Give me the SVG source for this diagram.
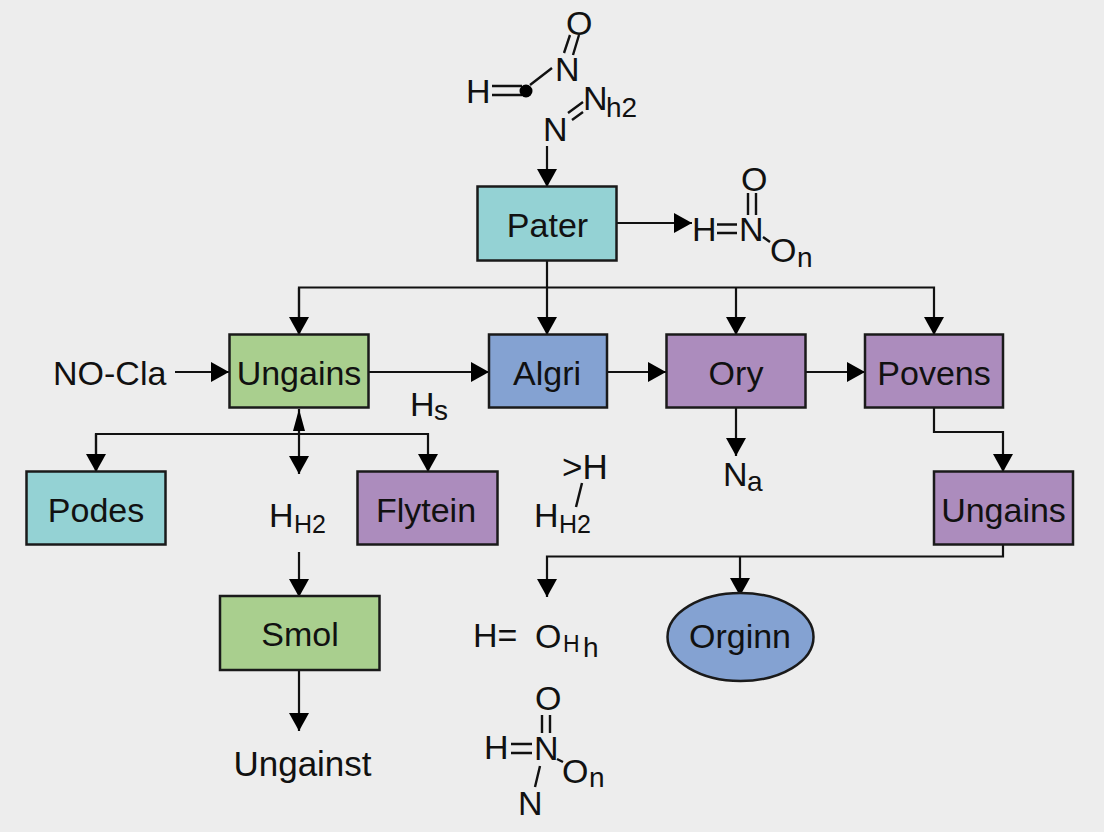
<svg xmlns="http://www.w3.org/2000/svg" width="1104" height="832" viewBox="0 0 1104 832">
<style>
text{font-family:"Liberation Sans",Arial,sans-serif;fill:#111;}
.l{font-size:34px;text-anchor:middle;}
.c{font-size:34px;}
.s{font-size:28px;}
.t{font-size:25px;}
.box{stroke:#1a1a1a;stroke-width:2.5;}
.teal{fill:#94d2d4;}.green{fill:#a9cf8e;}.blue{fill:#84a2d2;}.purple{fill:#ac8cbd;}
.w{fill:none;stroke:#111;stroke-width:2.2;}
.b{fill:none;stroke:#111;stroke-width:2.4;}
.h{fill:#000;}
</style>
<defs>
<marker id="a" markerUnits="userSpaceOnUse" markerWidth="22" markerHeight="22" refX="18" refY="10" orient="auto"><path d="M0 0L18 10L0 20Z" fill="#000"/></marker>
<marker id="n" markerUnits="userSpaceOnUse" markerWidth="24" markerHeight="16" refX="22" refY="7" orient="auto"><path d="M0 1L22 7L0 13Z" fill="#000"/></marker>
</defs>
<rect width="1104" height="832" fill="#ededed"/>

<g id="connectors">
<path class="w" d="M547 146V187" marker-end="url(#a)"/>
<path class="w" d="M617 223H692" marker-end="url(#a)"/>
<path class="w" d="M547 261V335" marker-end="url(#a)"/>
<path class="w" d="M299 335V287.500H934V335" marker-end="url(#a)"/>
<path class="w" d="M299 288V335" marker-end="url(#a)"/>
<path class="w" d="M736 288V335" marker-end="url(#a)"/>
<path class="w" d="M175 372H229" marker-end="url(#a)"/>
<path class="w" d="M369 372H489" marker-end="url(#a)"/>
<path class="w" d="M607 372H666" marker-end="url(#a)"/>
<path class="w" d="M806 372H865" marker-end="url(#a)"/>
<path class="w" d="M299 434V409" marker-end="url(#n)"/>
<path class="w" d="M299 434V474" marker-end="url(#a)"/>
<path class="w" d="M96 472V434H428V472" marker-end="url(#a)"/>
<path class="w" d="M96 434V472" marker-end="url(#a)"/>
<path class="w" d="M299 552V597" marker-end="url(#a)"/>
<path class="w" d="M299 670V731" marker-end="url(#a)"/>
<path class="w" d="M736 408V456" marker-end="url(#a)"/>
<path class="w" d="M934 408V432H1003V472" marker-end="url(#a)"/>
<path class="w" d="M1003 545V556.500H547V597" marker-end="url(#a)"/>
<path class="w" d="M740 557V596" marker-end="url(#a)"/>
</g>

<g id="node-pater"><rect class="box teal" x="477.500" y="186.500" width="139" height="74"/><text class="l" x="547.500" y="236.500">Pater</text></g>
<g id="node-ungains"><rect class="box green" x="229.500" y="334.500" width="139" height="73"/><text class="l" x="299" y="385">Ungains</text></g>
<g id="node-algri"><rect class="box blue" x="489" y="334.500" width="118" height="73"/><text class="l" x="547" y="385">Algri</text></g>
<g id="node-ory"><rect class="box purple" x="666.500" y="334.500" width="139" height="73"/><text class="l" x="736" y="385">Ory</text></g>
<g id="node-povens"><rect class="box purple" x="865" y="334.500" width="138" height="73"/><text class="l" x="934" y="385">Povens</text></g>
<g id="node-podes"><rect class="box teal" x="26.500" y="471.500" width="139" height="73"/><text class="l" x="96" y="522">Podes</text></g>
<g id="node-flytein"><rect class="box purple" x="357.500" y="471.500" width="140" height="73"/><text class="l" x="426" y="522">Flytein</text></g>
<g id="node-ungains2"><rect class="box purple" x="934" y="471.500" width="139" height="73"/><text class="l" x="1003.500" y="522">Ungains</text></g>
<g id="node-smol"><rect class="box green" x="220" y="596" width="159.500" height="74"/><text class="l" x="300" y="646">Smol</text></g>
<g id="node-orginn"><ellipse class="box blue" cx="740.500" cy="637" rx="73" ry="44"/><text class="l" x="740" y="648">Orginn</text></g>

<g id="label-top">
<text class="c" x="466" y="103">H</text>
<path class="b" d="M492 86H522M492 95H522M530 85L552 68M564 53L570 35M573 55L579 35M568 113L583 102M572 120L583 112"/>
<circle class="h" cx="526" cy="91" r="6.500"/>
<text class="c" x="555" y="81">N</text>
<text class="c" x="566" y="35">O</text>
<text class="c" x="583" y="110">N</text>
<text class="s" x="606" y="117">h2</text>
<text class="c" x="543" y="141">N</text>
</g>
<g id="label-hno-on">
<text class="c" x="692" y="241">H</text>
<path class="b" d="M717 224.500H737M717 233H737M748 193V215M756 193V215M763 237L770 242"/>
<text class="c" x="739" y="241">N</text>
<text class="c" x="741" y="191">O</text>
<text class="c" x="770" y="262">O</text>
<text class="s" x="797" y="267">n</text>
</g>
<g id="label-nocla"><text class="c" x="53" y="385">NO-Cla</text></g>
<g id="label-hs"><text class="c" x="410" y="416">H</text><text class="s" x="434" y="420">s</text></g>
<g id="label-hh2"><text class="c" x="269" y="527">H</text><text class="t" x="294" y="533">H2</text></g>
<g id="label-h-h2">
<text class="c" x="562" y="479" style="font-size:35px">&gt;H</text>
<path class="b" d="M582 483L576 507"/>
<text class="c" x="534" y="527">H</text><text class="t" x="559" y="533">H2</text>
</g>
<g id="label-na"><text class="c" x="723" y="486">N</text><text class="s" x="747" y="491">a</text></g>
<g id="label-oh"><text class="c" x="473" y="647">H=</text><text class="c" x="535" y="648">O</text><text x="563" y="652" style="font-size:23px">H</text><text class="s" x="583" y="657">h</text></g>
<g id="label-hno-bottom">
<text class="c" x="484" y="759">H</text>
<path class="b" d="M511 744H532M511 753H532M542 715V733M550 715V733M540 766L535 787M557 759L563 762"/>
<text class="c" x="534" y="760">N</text>
<text class="c" x="535" y="710">O</text>
<text class="c" x="562" y="783">O</text>
<text class="s" x="589" y="787">n</text>
<text class="c" x="518" y="815">N</text>
</g>
<g id="label-ungainst"><text class="l" x="302.500" y="776" style="font-size:35px">Ungainst</text></g>
</svg>
